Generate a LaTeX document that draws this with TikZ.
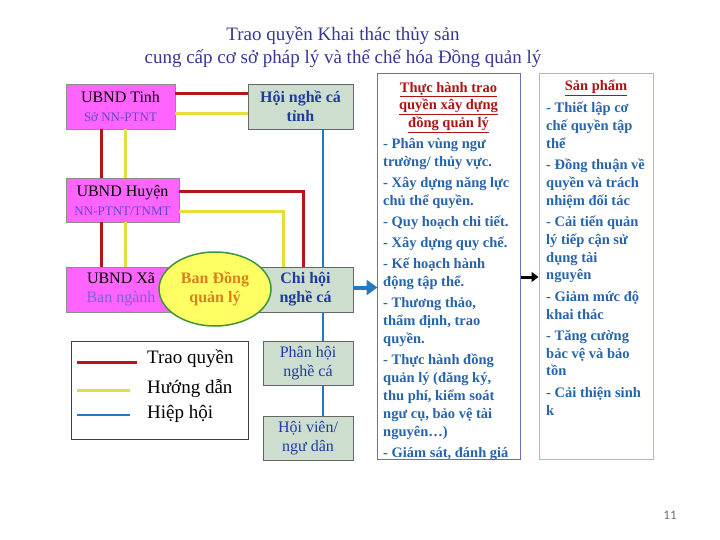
\documentclass[tikz,border=0pt]{standalone}
\usepackage{fontspec}
\setmainfont{Liberation Serif}
\newfontfamily\pagefont{Carlito}
\usepackage{xcolor}
\usetikzlibrary{arrows.meta, positioning, shapes.geometric}

\definecolor{titleblue}{RGB}{55,55,150}
\definecolor{traored}{RGB}{185,20,25}
\definecolor{hdyellow}{RGB}{228,222,60}
\definecolor{hhblue}{RGB}{40,120,190}
\definecolor{ubndpink}{RGB}{255,100,255}
\definecolor{hoigreen}{RGB}{206,222,206}
\definecolor{hoiblue}{RGB}{30,60,160}
\definecolor{subpurple}{RGB}{100,70,210}
\definecolor{itemblue}{RGB}{40,100,170}
\definecolor{headred}{RGB}{175,20,20}
\definecolor{colblue}{RGB}{110,110,190}
\definecolor{colorange}{RGB}{232,170,110}
\definecolor{bdqorange}{RGB}{215,130,30}
\definecolor{bdqyellow}{RGB}{255,255,100}
\definecolor{bdqgreen}{RGB}{60,150,60}

\newcommand{\subline}[1]{{\color{subpurple}\fontsize{13}{15}\selectfont #1}}

\begin{document}
\begin{tikzpicture}[x=1pt, y=-1pt,
  ubnd/.style={rectangle, draw=black!45, fill=ubndpink, inner sep=0pt, align=center, font=\fontsize{16}{19}\selectfont},
  hoi/.style={rectangle, draw=black!60, fill=hoigreen, inner sep=0pt, align=center, text=hoiblue, font=\fontsize{16}{19}\selectfont},
  trao/.style={draw=traored, line width=3pt},
  huongdan/.style={draw=hdyellow, line width=3pt},
  hiephoi/.style={draw=hhblue, line width=2.5pt},
  colbox/.style={rectangle, fill=white, line width=1pt, inner sep=0pt, minimum height=385pt},
  colhead/.style={anchor=north, inner sep=0pt, align=center, text=headred, font=\bfseries\fontsize{14.5}{17.5}\selectfont},
  colitems/.style={anchor=north west, inner sep=0pt, align=left, text=itemblue, font=\bfseries\fontsize{14.5}{18}\selectfont},
  arrow/.style={-{Triangle[length=11pt, width=15pt]}, line width=4pt}
]
  \fill[white] (0,0) rectangle (720,540);
  \useasboundingbox (0,0) rectangle (720,540);

  \node[font=\fontsize{19}{23}\selectfont, text=titleblue, align=center] (title) at (343,47)
    {Trao quyền Khai thác thủy sản\\cung cấp cơ sở pháp lý và thể chế hóa Đồng quản lý};

  \node[ubnd, minimum width=109pt, minimum height=45pt] (tinh) at (120.5,106.5) {UBND Tinh\\\subline{Sở NN-PTNT}};
  \node[hoi, font=\bfseries\fontsize{16}{19}\selectfont, minimum width=105pt, minimum height=45pt] (hoitinh) at (300.5,106.5) {Hội nghề cá\\tỉnh};
  \node[ubnd, minimum width=113pt, minimum height=44pt] (huyen) at (122.5,200) {UBND Huyện\\\subline{NN-PTNT/TNMT}};
  \node[ubnd, minimum width=110pt, minimum height=45pt] (xa) at (121,289.5) {UBND Xã\\{\color{subpurple!85}Ban ngành}};
  \node[hoi, font=\bfseries\fontsize{16}{19}\selectfont, minimum width=95pt, minimum height=45pt] (chihoi) at (305.5,289.5) {Chi hội\\nghề cá};
  \node[hoi, minimum width=90pt, minimum height=44pt, below=29pt of chihoi.south east, anchor=north east] (phanhoi) {Phân hội\\nghề cá};
  \node[hoi, minimum width=90pt, minimum height=44pt, below=30pt of phanhoi] (hoivien) {Hội viên/\\ngư dân};

  \draw[trao] ([yshift=12.5pt]tinh.east) -- ([yshift=12.5pt]tinh.east -| hoitinh.west);
  \draw[huongdan] ([yshift=-7.5pt]tinh.east) -- ([yshift=-7.5pt]tinh.east -| hoitinh.west);
  \draw[trao] ([xshift=-19.5pt]tinh.south) -- ([xshift=-19.5pt]tinh.south |- huyen.north);
  \draw[huongdan] ([xshift=4.5pt]tinh.south) -- ([xshift=4.5pt]tinh.south |- huyen.north);
  \draw[trao] ([xshift=-20pt]xa.north |- huyen.south) -- ([xshift=-20pt]xa.north);
  \draw[huongdan] ([xshift=4pt]xa.north |- huyen.south) -- ([xshift=4pt]xa.north);
  \draw[trao] ([yshift=8pt]huyen.east) -| ([xshift=-2.5pt]chihoi.north);
  \draw[huongdan] ([yshift=-12pt]huyen.east) -| ([xshift=-22.5pt]chihoi.north);
  \draw[hiephoi] ([xshift=22.5pt]hoitinh.south) -- ([xshift=22.5pt]hoitinh.south |- chihoi.north);
  \draw[hiephoi] ([xshift=15pt]phanhoi.north |- chihoi.south) -- ([xshift=15pt]phanhoi.north);
  \draw[hiephoi] ([xshift=15pt]phanhoi.south) -- ([xshift=15pt]hoivien.north);

  \node[ellipse, draw=bdqgreen, line width=1.5pt, fill=bdqyellow, minimum width=112pt, minimum height=74pt, inner sep=0pt,
    align=center, text=bdqorange, font=\bfseries\fontsize{16}{19}\selectfont] (bandq) at (215,289) {Ban Đồng\\quản lý};

  \node[rectangle, draw=black!75, line width=0.8pt, minimum width=177pt, minimum height=98pt] (legend) at (159.5,390) {};
  \foreach \sty/\txt/\ly/\ty/\lx in {trao/Trao quyền/362/359/137, huongdan/Hướng dẫn/390/388/130, hiephoi/Hiệp hội/415/414/130} {
    \draw[\sty] (77,\ly) -- (\lx,\ly);
    \node[anchor=west, inner sep=0pt, font=\fontsize{19}{22}\selectfont] (leg-\sty) at (147,\ty) {\txt};
  }

  \node[colbox, draw=colblue, minimum width=143pt] (thbox) at (448.5,266.5) {};
  \node[colbox, draw=colorange, minimum width=114pt] (spbox) at (596,266.5) {};

  \node[colhead] (thhead) at (448.5,82) {\underline{Thực hành trao}\\\underline{quyền xây dựng}\\\underline{đồng quản lý}};
  \node[colitems] (thitems) at (383,138) {- Phân vùng ngư\\trường/ thủy vực.\\[3pt]
    - Xây dựng năng lực\\chủ thể quyền.\\[3pt]
    - Quy hoạch chi tiết.\\[3pt]
    - Xây dựng quy chế.\\[3pt]
    - Kế hoạch hành\\động tập thể.\\[3pt]
    - Thương thảo,\\thẩm định, trao\\quyền.\\[3pt]
    - Thực hành đồng\\quản lý (đăng ký,\\thu phí, kiểm soát\\ngư cụ, bảo vệ tài\\nguyên…)\\[3pt]
    - Giám sát, đánh giá};

  \node[colhead] (sphead) at (596,80) {\underline{Sản phẩm}};
  \node[colitems, font=\bfseries\fontsize{14.5}{17.8}\selectfont] (spitems) at (546,102) {- Thiết lập cơ\\chế quyền tập\\thể\\[3.5pt]
    - Đồng thuận về\\quyền và trách\\nhiệm đối tác\\[3.5pt]
    - Cải tiến quản\\lý tiếp cận sử\\dụng tài\\nguyên\\[3.5pt]
    - Giảm mức độ\\khai thác\\[3.5pt]
    - Tăng cường\\bảc vệ và bảo\\tồn\\[3.5pt]
    - Cải thiện sinh\\k};

  \draw[arrow, draw=hhblue] ([yshift=2pt]chihoi.east) -- ([yshift=2pt,xshift=1pt]chihoi.east -| thbox.west);
  \draw[arrow, -{Triangle[length=7pt, width=10pt]}, line width=3pt] ([yshift=-10.5pt]thbox.east) -- ([yshift=-10.5pt]thbox.east -| spbox.west);

  \node[font=\pagefont\fontsize{13}{15}\selectfont, text=black!55] (pageno) at (670,515) {11};
\end{tikzpicture}
\end{document}
